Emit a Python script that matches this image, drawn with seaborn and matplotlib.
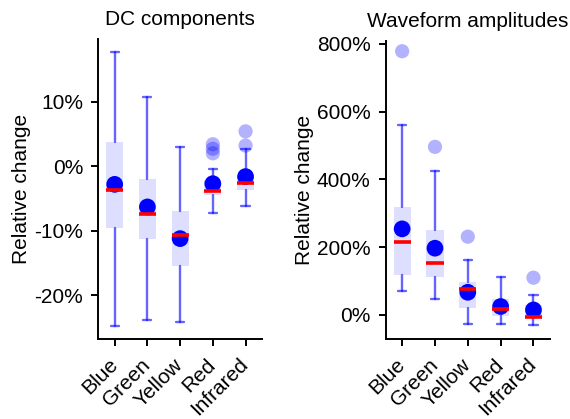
import numpy as np
import matplotlib
matplotlib.use("Agg")
import matplotlib.pyplot as plt
import seaborn as sns

categories = ["Blue", "Green", "Yellow", "Red", "Infrared"]

# DC components (relative change, %)
dc_whislo = [-24.7, -23.8, -24.1, -7.3, -6.1]
dc_q1 = [-9.5, -11.3, -15.5, -4.5, -3.6]
dc_med = [-3.6, -7.4, -10.7, -3.8, -2.6]
dc_q3 = [3.7, -2.0, -6.9, -2.2, -1.5]
dc_whishi = [17.7, 10.7, 3.0, -0.5, 2.6]
dc_mean = [-2.8, -6.3, -11.2, -2.7, -1.6]
dc_fliers = [[], [], [], [3.4, 2.7, 2.0], [5.4, 3.2]]
dc_ticks = [-20, -10, 0, 10]
dc_ticklabels = ["-20%", "-10%", "0%", "10%"]

# Waveform amplitudes (relative change, %)
wf_whislo = [72, 47, -26, -27, -31]
wf_q1 = [118, 113, 20, -3, -6]
wf_med = [215, 154, 78, 19, -5]
wf_q3 = [318, 251, 97, 46, 28]
wf_whishi = [561, 425, 162, 113, 58]
wf_mean = [254, 197, 67, 25, 15]
wf_fliers = [[778], [496], [231], [], [110]]
wf_ticks = [0, 200, 400, 600, 800]
wf_ticklabels = ["0%", "200%", "400%", "600%", "800%"]

sns.set_style("ticks")
plt.rcParams["font.family"] = ["Liberation Sans", "DejaVu Sans"]
plt.rcParams["text.color"] = "black"
plt.rcParams["axes.labelcolor"] = "black"

fig = plt.figure(figsize=(5.7, 4.19), dpi=100)
ax1 = fig.add_axes([0.1725, 0.19, 0.287, 0.717])
ax2 = fig.add_axes([0.6767, 0.19, 0.288, 0.712])

FS = 15


def draw(ax, whislo, q1, med, q3, whishi, mean, fliers, ticks, ticklabels, title, ylim):
    stats = []
    for i in range(len(categories)):
        stats.append(dict(whislo=whislo[i], q1=q1[i], med=med[i], q3=q3[i],
                          whishi=whishi[i], fliers=[], label=categories[i]))
    pos = np.arange(len(categories))
    ax.bxp(stats, positions=pos, widths=0.52, patch_artist=True,
           showfliers=False, capwidths=0.25,
           boxprops=dict(facecolor=(0, 0, 1, 0.13), edgecolor="none", linewidth=0),
           whiskerprops=dict(color=(0, 0, 1, 0.6), linewidth=1.7),
           capprops=dict(color=(0, 0, 1, 0.6), linewidth=1.7),
           medianprops=dict(color="red", linewidth=2.6, zorder=5))
    fx, fy = [], []
    for i, fl in enumerate(fliers):
        for v in fl:
            fx.append(i)
            fy.append(v)
    sns.scatterplot(x=fx, y=fy, ax=ax, s=105, color=(0, 0, 1), alpha=0.3,
                    edgecolor="none", zorder=3)
    sns.scatterplot(x=pos, y=mean, ax=ax, s=145, color=(0, 0, 1),
                    edgecolor="none", zorder=4)
    ax.set_xlim(-0.5, 4.5)
    ax.set_ylim(*ylim)
    ax.set_xticks(pos)
    ax.set_xticklabels(categories, rotation=45, ha="right", va="center",
                       rotation_mode="anchor", fontsize=FS)
    ax.set_yticks(ticks)
    ax.set_yticklabels(ticklabels, fontsize=FS)
    ax.set_ylabel("Relative change", fontsize=FS, labelpad=2)
    ax.set_title(title, fontsize=FS, pad=10, color="black")
    for s in ["top", "right"]:
        ax.spines[s].set_visible(False)
    for s in ["left", "bottom"]:
        ax.spines[s].set_linewidth(1.4)
        ax.spines[s].set_color("black")
    ax.tick_params(direction="out", length=5, width=1.4, colors="black")
    ax.tick_params(axis="y", pad=6)
    ax.tick_params(axis="x", pad=11)


draw(ax1, dc_whislo, dc_q1, dc_med, dc_q3, dc_whishi, dc_mean, dc_fliers,
     dc_ticks, dc_ticklabels, "DC components", (-26.8, 19.7))
draw(ax2, wf_whislo, wf_q1, wf_med, wf_q3, wf_whishi, wf_mean, wf_fliers,
     wf_ticks, wf_ticklabels, "Waveform amplitudes", (-72, 808))

fig.savefig("out.png", dpi=100)
